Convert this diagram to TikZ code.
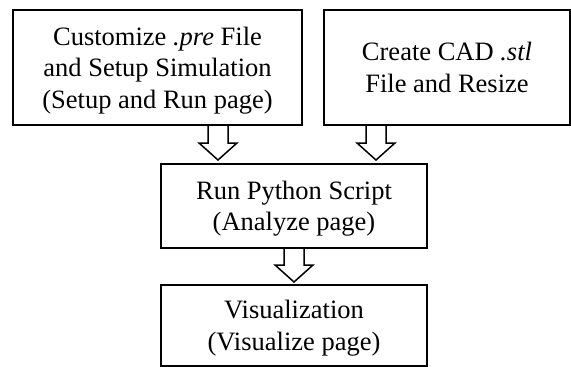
\documentclass[tikz,border=0pt]{standalone}
\usepackage{fontspec}
\setmainfont{Liberation Serif}
\usetikzlibrary{calc}

\tikzset{
  stepbox/.style={draw, line width=1.5pt, inner sep=0pt, align=center,
    text depth=0pt, font=\fontsize{26.5}{31.5}\selectfont},
  fatarrow/.style={draw, line width=1.5pt, line join=miter}
}
% hollow block arrow from #1 down to #2
\newcommand{\blockarrow}[2]{%
  \path (#1) coordinate (s) (#2) coordinate (e);
  \draw[fatarrow] ($(s)+(-10pt,0)$) -- ($(e)+(-10pt,17pt)$) -- ($(e)+(-19pt,17pt)$)
    -- (e) -- ($(e)+(19pt,17pt)$) -- ($(e)+(10pt,17pt)$) -- ($(s)+(10pt,0)$);
}

\begin{document}
\begin{tikzpicture}[x=1pt,y=-1pt]
  \useasboundingbox (0,0) rectangle (571,367);

  \node[stepbox, minimum width=289pt, minimum height=115pt] (setup) at (157.5,67.5)
    {Customize \textit{.pre} File\\and Setup Simulation\\(Setup and Run page)};
  \node[stepbox, minimum width=246pt, minimum height=115pt] (cad) at (447,67.5)
    {Create CAD \textit{.stl}\\File and Resize};
  \node[stepbox, minimum width=266pt, minimum height=84pt] (run) at (294,206)
    {Run Python Script\\(Analyze page)};
  \node[stepbox, minimum width=266pt, minimum height=81pt] (vis) at (294,325.5)
    {Visualization\\(Visualize page)};

  \coordinate (a1) at (218,160);
  \coordinate (a2) at (376,160);
  \coordinate (a3) at (294,282);
  \blockarrow{setup.south -| a1}{a1}
  \blockarrow{cad.south -| a2}{a2}
  \blockarrow{run.south -| a3}{a3}
\end{tikzpicture}
\end{document}
